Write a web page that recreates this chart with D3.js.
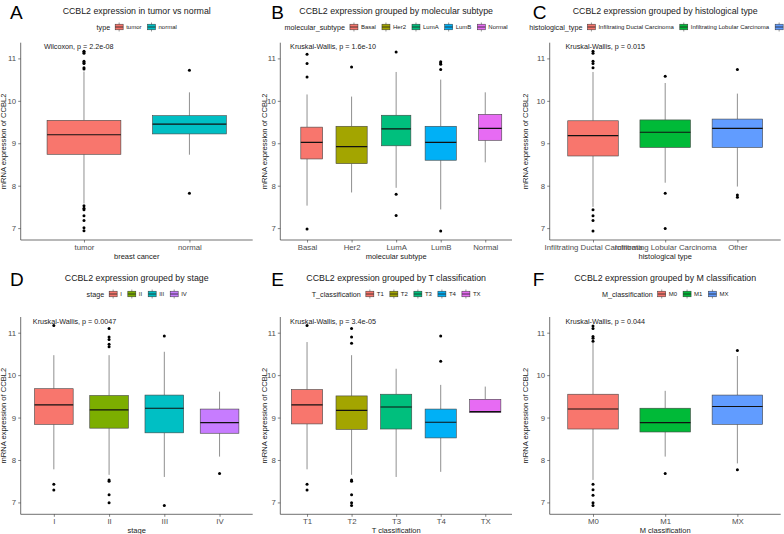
<!DOCTYPE html>
<html>
<head>
<meta charset="utf-8">
<script src="https://cdn.jsdelivr.net/npm/d3@7"></script>
<style>
  body { margin:0; background:#fff; }
  text { font-family: "Liberation Sans", Arial, sans-serif; }
</style>
</head>
<body>
<script>
// ---- data: [lower whisker, Q1, median, Q3, upper whisker] ----
const aGroups = ["tumor","normal"];
const aStats = [[7.58,8.74,9.20,9.54,10.69],[8.73,9.22,9.45,9.65,10.20]];
const aOut = [[11.17,11.15,11.12,10.93,10.90,10.88,10.78,10.75,7.53,7.47,7.43,7.29,7.18,7.01,6.94],[10.72,7.82]];

const bGroups = ["Basal","Her2","LumA","LumB","Normal"];
const bStats = [[7.53,8.63,9.02,9.38,10.15],[7.84,8.52,8.92,9.40,10.10],[7.95,8.94,9.34,9.66,10.68],[7.44,8.60,9.02,9.40,10.50],[8.55,9.07,9.35,9.68,10.20]];
const bOut = [[11.10,10.88,10.56,6.98],[10.80],[11.15,7.80,7.30],[10.92,10.89,10.86,10.74,6.93],[]];

const cGroups = ["Infiltrating Ductal Carcinoma","Infiltrating Lobular Carcinoma","Other"];
const cStats = [[7.50,8.70,9.18,9.53,10.68],[8.07,8.90,9.26,9.55,10.42],[7.98,8.90,9.35,9.57,10.17]];
const cOut = [[11.17,11.12,10.93,10.88,10.78,7.43,7.29,7.18,6.93],[10.58,7.82,6.99],[10.74,7.78,7.73]];

const dGroups = ["I","II","III","IV"];
const dStats = [[7.78,8.84,9.30,9.68,10.47],[7.65,8.75,9.18,9.52,10.47],[7.60,8.64,9.22,9.53,10.55],[8.08,8.63,8.88,9.20,9.61]];
const dOut = [[11.17,7.43,7.29],[11.10,10.90,10.84,10.73,10.67,7.53,7.50,7.18,6.99],[10.92,6.93],[7.68]];

const eGroups = ["T1","T2","T3","T4","TX"];
const eStats = [[7.78,8.85,9.30,9.66,10.78],[7.65,8.72,9.17,9.51,10.47],[7.60,8.73,9.25,9.55,10.15],[7.72,8.52,8.89,9.20,9.77],[9.12,9.12,9.14,9.43,9.73]];
const eOut = [[11.17,7.43,7.29],[11.10,10.90,10.75,7.53,7.50,7.18,6.99,6.93],[],[10.92,10.33],[]];

const fGroups = ["M0","M1","MX"];
const fStats = [[7.53,8.73,9.20,9.55,10.76],[8.08,8.66,8.88,9.22,9.63],[7.92,8.84,9.26,9.53,10.45]];
const fOut = [[11.16,11.10,10.91,10.87,10.80,7.43,7.30,7.17,6.99,6.93],[7.68],[10.58,7.77]];

const yTicks = [7,8,9,10,11];

const pal2 = ["#F8766D","#00BFC4"];
const pal3 = ["#F8766D","#00BA38","#619CFF"];
const pal4 = ["#F8766D","#7CAE00","#00BFC4","#C77CFF"];
const pal5 = ["#F8766D","#A3A500","#00BF7D","#00B0F6","#E76BF3"];

// box extent left/right of the whisker, as a fraction of the category step
const spanStd = [-0.35,0.35];
const spanB = [[-0.14,0.35],[-0.35,0.35],[-0.33,0.33],[-0.35,0.35],[-0.15,0.37]];

const panels = [
  {L:"A",col:0,row:0,title:"CCBL2 expression in tumor vs normal",leg:"type",xt:"breast cancer",test:"Wilcoxon, p = 2.2e-08",g:aGroups,s:aStats,o:aOut,c:pal2},
  {L:"B",col:1,row:0,title:"CCBL2 expression grouped by molecular subtype",leg:"molecular_subtype",xt:"molecular subtype",test:"Kruskal-Wallis, p = 1.6e-10",g:bGroups,s:bStats,o:bOut,c:pal5,span:spanB},
  {L:"C",col:2,row:0,title:"CCBL2 expression grouped by histological type",leg:"histological_type",xt:"histological type",test:"Kruskal-Wallis, p = 0.015",g:cGroups,s:cStats,o:cOut,c:pal3},
  {L:"D",col:0,row:1,title:"CCBL2 expression grouped by stage",leg:"stage",xt:"stage",test:"Kruskal-Wallis, p = 0.0047",g:dGroups,s:dStats,o:dOut,c:pal4},
  {L:"E",col:1,row:1,title:"CCBL2 expression grouped by T classification",leg:"T_classification",xt:"T classification",test:"Kruskal-Wallis, p = 3.4e-05",g:eGroups,s:eStats,o:eOut,c:pal5},
  {L:"F",col:2,row:1,title:"CCBL2 expression grouped by M classification",leg:"M_classification",xt:"M classification",test:"Kruskal-Wallis, p = 0.044",g:fGroups,s:fStats,o:fOut,c:pal3}
];

const W=784, H=534;
const colLeft = [20.7,280.3,549.7], colRight = [252.7,512,780.7];
const rowTop = [42.7,317], rowBot = [240,514.3];
const colW = W/3;

const svg = d3.select("body").append("svg").attr("width",W).attr("height",H);
const defs = svg.append("defs");

panels.forEach(function(p,pi){
  const left=colLeft[p.col], right=colRight[p.col], top=rowTop[p.row], bot=rowBot[p.row];
  const ox = p.col*colW, oy = p.row*267;
  defs.append("clipPath").attr("id","clip"+pi).append("rect")
      .attr("x",ox).attr("y",oy).attr("width",colW).attr("height",267);
  const g = svg.append("g").attr("clip-path","url(#clip"+pi+")");

  const x = d3.scalePoint().domain(p.g).range([left,right]).padding(0.6);
  const y = d3.scaleLinear().domain([6.72,11.37]).range([bot,top]);
  const st = x.step();
  const span = i => (p.span ? p.span[i] : spanStd);
  const mid = (left+right)/2;

  // panel letter + title
  g.append("text").attr("x",ox+10).attr("y",oy+19).attr("font-size",19).attr("fill","#000").text(p.L);
  g.append("text").attr("x",mid).attr("y",oy+13.5).attr("text-anchor","middle")
   .attr("font-size",8.8).attr("fill","#1a1a1a").text(p.title);

  // legend
  const lg = g.append("g");
  let cx = 0;
  lg.append("text").attr("x",cx).attr("y",0).attr("dy","0.35em").attr("font-size",7.2).attr("fill","#1a1a1a").text(p.leg)
    .each(function(){ cx += this.getComputedTextLength()+5; });
  p.g.forEach(function(name,i){
    const k = lg.append("g").attr("transform","translate("+cx+",0)");
    k.append("line").attr("x1",4).attr("x2",4).attr("y1",-4.5).attr("y2",4.5).attr("stroke","#333").attr("stroke-width",0.5);
    k.append("rect").attr("x",0).attr("y",-2.8).attr("width",8).attr("height",5.6)
     .attr("fill",p.c[i]).attr("stroke","#333").attr("stroke-width",0.5);
    k.append("line").attr("x1",0).attr("x2",8).attr("y1",0).attr("y2",0).attr("stroke","#222").attr("stroke-width",0.8);
    cx += 11;
    lg.append("text").attr("x",cx).attr("y",0).attr("dy","0.35em").attr("font-size",6).attr("fill","#1a1a1a").text(name)
      .each(function(){ cx += this.getComputedTextLength()+6; });
  });
  lg.attr("transform","translate("+(mid-(cx-6)/2)+","+(oy+27)+")");

  // axes
  const ya = g.append("g").attr("transform","translate("+left+",0)")
    .call(d3.axisLeft(y).tickValues(yTicks).tickSize(2.5).tickPadding(2).tickFormat(d3.format("d")));
  ya.select(".domain").attr("d","M0,"+top+"V"+bot).attr("stroke","#333").attr("stroke-width",0.7);
  ya.selectAll(".tick line").attr("stroke","#333").attr("stroke-width",0.6);
  ya.selectAll(".tick text").attr("font-size",7.8).attr("fill","#4d4d4d").attr("font-family","Liberation Sans, Arial, sans-serif");

  const xa = g.append("g").attr("transform","translate(0,"+bot+")")
    .call(d3.axisBottom(x).tickSize(2.5).tickPadding(2));
  xa.select(".domain").attr("d","M"+left+",0H"+right).attr("stroke","#333").attr("stroke-width",0.7);
  xa.selectAll(".tick line").attr("stroke","#333").attr("stroke-width",0.6);
  xa.selectAll(".tick text").attr("font-size",7.8).attr("fill","#4d4d4d").attr("font-family","Liberation Sans, Arial, sans-serif");

  g.append("text").attr("x",mid).attr("y",bot+19).attr("text-anchor","middle")
   .attr("font-size",7.5).attr("fill","#1a1a1a").text(p.xt);
  g.append("text").attr("transform","translate("+(ox+5.5)+","+((top+bot)/2)+") rotate(-90)")
   .attr("text-anchor","middle").attr("font-size",7.6).attr("fill","#1a1a1a").text("mRNA expression of CCBL2");

  // boxes
  const bx = g.selectAll("g.box").data(p.s).enter().append("g").attr("class","box");
  bx.append("line").attr("x1",(d,i)=>x(p.g[i])).attr("x2",(d,i)=>x(p.g[i]))
    .attr("y1",d=>y(d[0])).attr("y2",d=>y(d[1])).attr("stroke","#444").attr("stroke-width",0.6);
  bx.append("line").attr("x1",(d,i)=>x(p.g[i])).attr("x2",(d,i)=>x(p.g[i]))
    .attr("y1",d=>y(d[3])).attr("y2",d=>y(d[4])).attr("stroke","#444").attr("stroke-width",0.6);
  bx.append("rect").attr("x",(d,i)=>x(p.g[i])+span(i)[0]*st).attr("width",(d,i)=>(span(i)[1]-span(i)[0])*st)
    .attr("y",d=>y(d[3])).attr("height",d=>y(d[1])-y(d[3]))
    .attr("fill",(d,i)=>p.c[i]).attr("stroke","#444").attr("stroke-width",0.6);
  bx.append("line").attr("x1",(d,i)=>x(p.g[i])+span(i)[0]*st).attr("x2",(d,i)=>x(p.g[i])+span(i)[1]*st)
    .attr("y1",d=>y(d[2])).attr("y2",d=>y(d[2])).attr("stroke","#111").attr("stroke-width",1.1);

  // outliers
  p.o.forEach(function(arr,i){
    g.selectAll(null).data(arr).enter().append("circle")
     .attr("cx",x(p.g[i])).attr("cy",d=>y(d)).attr("r",1.5).attr("fill","#000");
  });

  // test label
  g.append("text").attr("x",left+st*0.22).attr("y",top+4).attr("dy","0.35em")
   .attr("font-size",7.2).attr("fill","#1a1a1a").text(p.test);
});
</script>
</body>
</html>
